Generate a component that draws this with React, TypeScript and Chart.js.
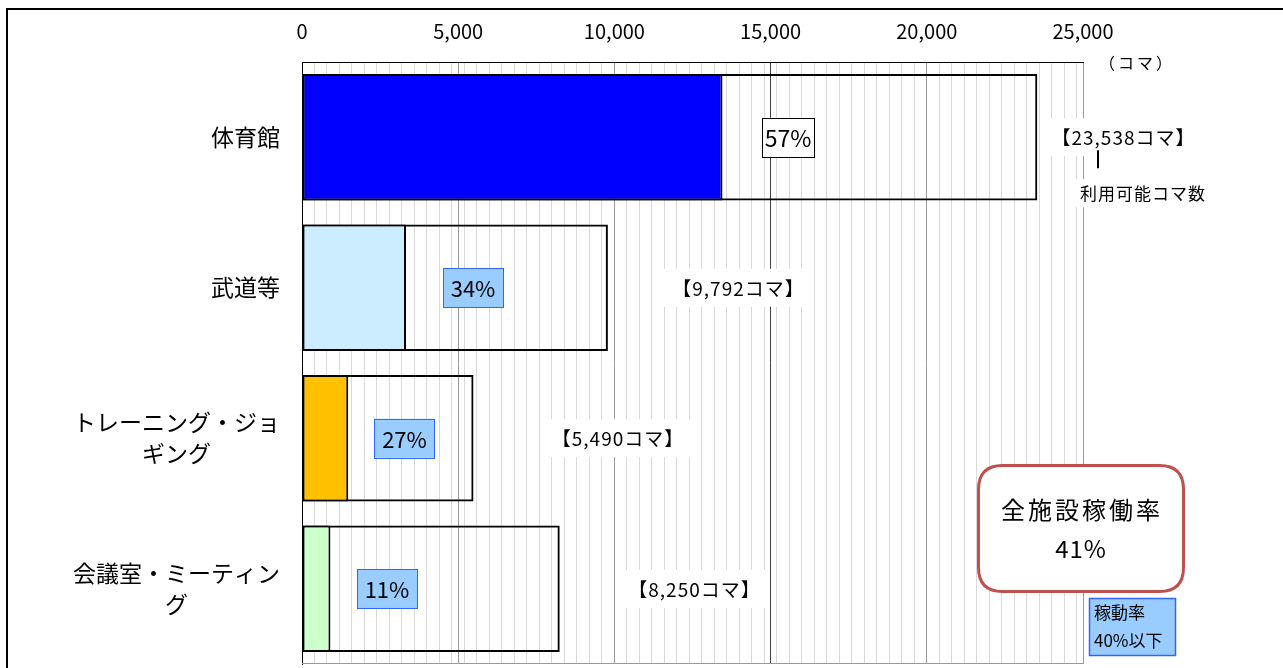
import React, { useEffect, useRef } from 'react';
import { Chart, registerables } from 'chart.js';

Chart.register(...registerables);

// ---- data ----
const categoryLines = [['体育館'], ['武道等'], ['トレーニング・ジョ', 'ギング'], ['会議室・ミーティン', 'グ']];
const availableSlots = [23538, 9792, 5490, 8250];
const usedSlots = [13460, 3330, 1480, 910];
const utilizationRates = [57, 34, 27, 11];
const usedColors = ['#0000FF', '#CCECFF', '#FFC000', '#CCFFCC'];
const majorTickValues = [0, 5000, 10000, 15000, 20000, 25000];
const minorTickStep = 400;
const axisUnitLabel = '（コマ）';
const totalNote = '利用可能コマ数';
const overallTitle = '全施設稼働率';
const overallRate = '41%';
const lowRateNote = ['稼動率', '40%以下'];

// annotation anchors (in axis value units)
const rateLabelAt = [15560, 5474, 3281, 2721];
const totalLabelAt = [26280, 13956, 10100, 12548];

const FONT = '"Noto Sans CJK JP", "Noto Sans", sans-serif';

function fmt(n: number) {
  return n.toLocaleString('en-US');
}

function roundRect(ctx: CanvasRenderingContext2D, x: number, y: number, w: number, h: number, r: number) {
  ctx.beginPath();
  ctx.moveTo(x + r, y);
  ctx.lineTo(x + w - r, y);
  ctx.quadraticCurveTo(x + w, y, x + w, y + r);
  ctx.lineTo(x + w, y + h - r);
  ctx.quadraticCurveTo(x + w, y + h, x + w - r, y + h);
  ctx.lineTo(x + r, y + h);
  ctx.quadraticCurveTo(x, y + h, x, y + h - r);
  ctx.lineTo(x, y + r);
  ctx.quadraticCurveTo(x, y, x + r, y);
  ctx.closePath();
}

const decorPlugin = {
  id: 'decor',
  beforeDraw(chart: any) {
    const ctx = chart.ctx as CanvasRenderingContext2D;
    ctx.save();
    ctx.fillStyle = '#fff';
    ctx.fillRect(0, 0, chart.width, chart.height);
    ctx.restore();
  },
  afterDraw(chart: any) {
    const ctx = chart.ctx as CanvasRenderingContext2D;
    const xs = chart.scales.x;
    const ys = chart.scales.y;
    const area = chart.chartArea;
    ctx.save();

    // outer frame
    ctx.strokeStyle = '#000';
    ctx.lineWidth = 2;
    ctx.strokeRect(7, 9, chart.width + 20, chart.height + 20);

    // plot bottom edge
    ctx.strokeStyle = '#999';
    ctx.lineWidth = 1;
    ctx.beginPath();
    ctx.moveTo(area.left, area.bottom - 0.5);
    ctx.lineTo(area.right, area.bottom - 0.5);
    ctx.stroke();

    // category labels (block right-aligned, lines centered)
    ctx.font = `23px ${FONT}`;
    ctx.fillStyle = '#000';
    ctx.textBaseline = 'middle';
    ctx.textAlign = 'center';
    categoryLines.forEach((lines, i) => {
      const cy = ys.getPixelForValue(i);
      const w = Math.max(...lines.map((l) => ctx.measureText(l).width));
      const cx = 280 - w / 2;
      const lh = 31;
      lines.forEach((l, j) => {
        ctx.fillText(l, cx, cy + (j - (lines.length - 1) / 2) * lh);
      });
    });

    // rate boxes
    utilizationRates.forEach((r, i) => {
      const cx = xs.getPixelForValue(rateLabelAt[i]);
      const cy = ys.getPixelForValue(i);
      const t = `${r}%`;
      const low = r <= 40;
      const bw = low ? 60 : 52;
      const bh = 39;
      ctx.font = `${low ? 22 : 23}px ${FONT}`;
      ctx.fillStyle = low ? '#99CCFF' : '#FFFFFF';
      ctx.fillRect(cx - bw / 2, cy - bh / 2, bw, bh);
      ctx.strokeStyle = low ? '#3366FF' : '#000';
      ctx.lineWidth = 1;
      ctx.strokeRect(Math.round(cx - bw / 2) + 0.5, Math.round(cy - bh / 2) + 0.5, bw, bh);
      ctx.fillStyle = '#000';
      ctx.fillText(t, cx, cy + 1);
    });

    // total labels with white background
    ctx.font = `19px ${FONT}`;
    (ctx as any).letterSpacing = '1px';
    availableSlots.forEach((v, i) => {
      const cx = xs.getPixelForValue(totalLabelAt[i]);
      const cy = ys.getPixelForValue(i);
      const t = `【${fmt(v)}コマ】`;
      const w = ctx.measureText(t).width;
      ctx.fillStyle = '#fff';
      ctx.fillRect(cx - w / 2 - 8, cy - 19, w + 16, 38);
      ctx.fillStyle = '#000';
      ctx.fillText(t, cx + 0.5, cy + 1);
    });
    (ctx as any).letterSpacing = '0px';

    // note under first total
    const y0 = ys.getPixelForValue(0);
    ctx.strokeStyle = '#000';
    ctx.lineWidth = 2;
    ctx.beginPath();
    ctx.moveTo(1098, y0 + 13);
    ctx.lineTo(1098, y0 + 31);
    ctx.stroke();
    ctx.font = `17px ${FONT}`;
    (ctx as any).letterSpacing = '1px';
    const nw = ctx.measureText(totalNote).width;
    ctx.fillStyle = '#fff';
    ctx.fillRect(1143 - nw / 2 - 6, y0 + 42, nw + 12, 28);
    ctx.fillStyle = '#000';
    ctx.fillText(totalNote, 1143, y0 + 56);

    // unit label
    ctx.font = `16px ${FONT}`;
    (ctx as any).letterSpacing = '3px';
    ctx.fillText(axisUnitLabel, 1137, 63);
    (ctx as any).letterSpacing = '0px';

    // overall rate rounded box
    ctx.fillStyle = '#fff';
    roundRect(ctx, 978.5, 465.5, 205, 126, 24);
    ctx.fill();
    ctx.strokeStyle = '#C0504D';
    ctx.lineWidth = 3;
    ctx.stroke();
    ctx.fillStyle = '#000';
    ctx.font = `24px ${FONT}`;
    (ctx as any).letterSpacing = '3px';
    ctx.fillText(overallTitle, 1082, 510);
    (ctx as any).letterSpacing = '1px';
    ctx.fillText(overallRate, 1081, 549);
    (ctx as any).letterSpacing = '0px';

    // low rate note box
    ctx.fillStyle = '#99CCFF';
    ctx.fillRect(1089, 598, 87, 58);
    ctx.strokeStyle = '#3366FF';
    ctx.lineWidth = 1.5;
    ctx.strokeRect(1089.5, 598.5, 86, 57);
    ctx.fillStyle = '#000';
    ctx.font = `17px ${FONT}`;
    ctx.textAlign = 'left';
    ctx.fillText(lowRateNote[0], 1094, 613);
    ctx.fillText(lowRateNote[1], 1094, 641);

    ctx.restore();
  },
};

export default function App() {
  const ref = useRef<HTMLCanvasElement | null>(null);

  useEffect(() => {
    let chart: Chart | null = null;
    let cancelled = false;
    const build = () => {
      if (cancelled || !ref.current) return;
      const gridTicks: number[] = [];
      for (let v = 0; v <= 25000; v += minorTickStep) gridTicks.push(v);
      majorTickValues.forEach((v) => {
        if (!gridTicks.includes(v)) gridTicks.push(v);
      });
      gridTicks.sort((a, b) => a - b);

      chart = new Chart(ref.current, {
        type: 'bar',
        data: {
          labels: categoryLines.map((l) => l.join('')),
          datasets: [
            {
              label: '利用コマ数',
              data: usedSlots,
              backgroundColor: usedColors,
              borderColor: '#000',
              borderWidth: 2,
              borderSkipped: false,
              grouped: false,
              categoryPercentage: 0.84,
              barPercentage: 1,
            },
            {
              label: '利用可能コマ数',
              data: availableSlots,
              backgroundColor: 'rgba(255,255,255,0)',
              borderColor: '#000',
              borderWidth: 2,
              borderSkipped: false,
              grouped: false,
              categoryPercentage: 0.84,
              barPercentage: 1,
            },
          ],
        },
        options: {
          indexAxis: 'y',
          responsive: false,
          animation: false,
          layout: { padding: { left: 302, right: 200, top: 0, bottom: 4 } },
          plugins: { legend: { display: false }, tooltip: { enabled: false } },
          scales: {
            x: {
              position: 'top',
              min: 0,
              max: 25000,
              afterBuildTicks: (scale: any) => {
                scale.ticks = gridTicks.map((v) => ({ value: v }));
              },
              ticks: {
                autoSkip: false,
                maxRotation: 0,
                padding: 19,
                color: '#000',
                font: { family: FONT, size: 20 },
                callback: (v: any) => (majorTickValues.includes(Number(v)) ? fmt(Number(v)) : ''),
              },
              grid: {
                drawTicks: false,
                lineWidth: 1,
                color: (c: any) => {
                  const v = c.tick ? c.tick.value : 0;
                  if (v === 15000) return '#404040';
                  if (majorTickValues.includes(v)) return '#999999';
                  return '#D9D9D9';
                },
              },
              border: { display: true, color: '#000', width: 1 },
            },
            y: {
              ticks: { display: false },
              grid: { display: false, drawTicks: false },
              border: { display: true, color: '#000', width: 1 },
            },
          },
        },
        plugins: [decorPlugin],
      } as any);
    };
    const fontsReady = (document as any).fonts
      ? Promise.all([
          (document as any).fonts.load(`20px "Noto Sans CJK JP"`, '体育館0123コマ'),
        ]).catch(() => null)
      : Promise.resolve(null);
    fontsReady.then(build);
    return () => {
      cancelled = true;
      if (chart) chart.destroy();
    };
  }, []);

  return (
    <div style={{ position: 'fixed', left: 0, top: 0, width: 1283, height: 668, background: '#fff' }}>
      <canvas ref={ref} width={1283} height={668} style={{ display: 'block' }} />
    </div>
  );
}
